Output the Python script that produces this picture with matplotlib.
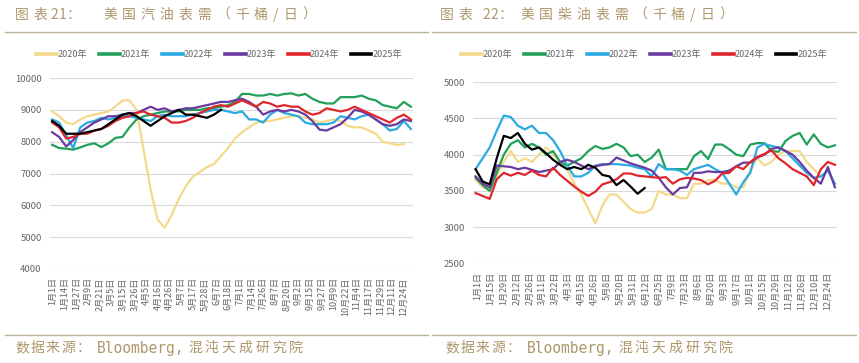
import numpy as np
import matplotlib.pyplot as plt
from matplotlib.lines import Line2D

plt.rcParams['font.family'] = ['Noto Sans CJK SC', 'DejaVu Sans']

years = ['2020年', '2021年', '2022年', '2023年', '2024年', '2025年']
colors = ['#F4D98A', '#21A05A', '#2AAAE2', '#6B3A9E', '#E0262B', '#000000']

# US gasoline implied demand, kb/d, weekly
gas_2020 = [8950, 8800, 8600, 8550, 8700, 8800, 8850, 8900, 8950, 9100,
            9300, 9300, 9000, 7750, 6500, 5550, 5300, 5700, 6200, 6600,
            6900, 7050, 7200, 7300, 7550, 7800, 8100, 8300, 8450, 8600,
            8650, 8650, 8700, 8750, 8800, 8800, 8750, 8700, 8600, 8650,
            8700, 8650, 8500, 8450, 8450, 8350, 8250, 8000, 7950, 7900,
            7920]
gas_2021 = [7900, 7800, 7780, 7750, 7820, 7900, 7950, 7830, 7950, 8120,
            8150, 8450, 8700, 8800, 8850, 8900, 8950, 8950, 8950, 9000,
            9000, 9000, 9050, 9050, 9100, 9150, 9250, 9500, 9500, 9450,
            9450, 9500, 9450, 9500, 9520, 9450, 9500, 9350, 9250, 9200,
            9200, 9400, 9400, 9400, 9450, 9350, 9300, 9150, 9100, 9050,
            9250, 9100]
gas_2022 = [8700, 8600, 8200, 7800, 8450, 8600, 8650, 8750, 8700, 8750,
            8800, 8800, 8750, 8700, 8650, 8800, 8850, 8800, 8800, 8800,
            8850, 8900, 8950, 9000, 9000, 8950, 8900, 8950, 8700, 8700,
            8600, 8850, 9000, 8900, 8850, 8800, 8600, 8550, 8550, 8550,
            8600, 8800, 8750, 8700, 8800, 8850, 8700, 8550, 8350, 8400,
            8650, 8400]
gas_2023 = [8300, 8150, 7850, 8050, 8300, 8450, 8600, 8700, 8800, 8800,
            8850, 8900, 8900, 9000, 9100, 9000, 9050, 8950, 9000, 9050,
            9050, 9100, 9150, 9200, 9250, 9250, 9300, 9350, 9250, 9100,
            8850, 8950, 9000, 8950, 9000, 8950, 8850, 8650, 8380, 8350,
            8450, 8550, 8750, 9000, 8950, 8850, 8700, 8550, 8500, 8550,
            8700, 8650]
gas_2024 = [8600, 8450, 8100, 8150, 8250, 8250, 8350, 8400, 8500, 8650,
            8750, 8800, 8900, 8950, 8850, 8800, 8750, 8600, 8600, 8650,
            8750, 8900, 9000, 9100, 9150, 9100, 9200, 9300, 9200, 9100,
            9250, 9200, 9100, 9150, 9100, 9100, 8950, 8850, 8900, 9050,
            9000, 8950, 9000, 9100, 9000, 8900, 8800, 8700, 8600, 8750,
            8850, 8700]
gas_2025 = [8650, 8500, 8250, 8250, 8250, 8300, 8350, 8400, 8550, 8700,
            8850, 8900, 8800, 8650, 8500, 8650, 8800, 8900, 9000, 8850,
            8850, 8800, 8750, 8850, 9000]

# US diesel implied demand, kb/d, weekly
dsl_2020 = [3650, 3550, 3500, 3700, 3900, 4050, 3900, 3950, 3900, 4000,
            4100, 4000, 3900, 3800, 3600, 3450, 3250, 3050, 3300, 3450,
            3450, 3350, 3250, 3200, 3200, 3250, 3500, 3450, 3450, 3400,
            3400, 3600, 3600, 3650, 3650, 3600, 3600, 3550, 3550, 3800,
            3950, 3850, 3900, 4000, 4050, 4050, 4050, 3900, 3800, 3700]
dsl_2021 = [3680, 3580, 3500, 3750, 4000, 4150, 4200, 4100, 4150, 4100,
            4000, 4050, 3900, 3850, 3900, 3950, 4050, 4120, 4080, 4100,
            4150, 4100, 3980, 4000, 3900, 3960, 4070, 3800, 3800, 3800,
            3800, 3980, 4050, 3940, 4140, 4140, 4075, 4000, 3980, 4140,
            4160, 4160, 4050, 4040, 4190, 4260, 4300, 4140, 4280, 4150,
            4100, 4130]
dsl_2022 = [3800, 3950, 4100, 4330, 4540, 4520, 4400, 4350, 4400, 4300,
            4300, 4200, 4050, 3850, 3700, 3700, 3750, 3850, 3870, 3870,
            3870, 3860, 3850, 3820, 3800, 3700, 3870, 3800, 3800, 3780,
            3720, 3800, 3830, 3860, 3800, 3750, 3600, 3450, 3620, 3750,
            4100, 4150, 4120, 4100, 4050, 3950, 3850, 3750, 3680, 3700,
            3780, 3600]
dsl_2023 = [3700, 3600, 3550, 3850, 3840, 3830, 3800, 3820, 3790, 3760,
            3780, 3800, 3900, 3930, 3900, 3850, 3800, 3840, 3860, 3870,
            3960, 3920, 3880, 3850, 3820, 3780, 3680, 3550, 3450, 3540,
            3550, 3750, 3750, 3770, 3760, 3760, 3780, 3840, 3890, 3890,
            3960, 4000, 4080, 4100, 4050, 4000, 3900, 3780, 3680, 3600,
            3830, 3550]
dsl_2024 = [3470, 3430, 3390, 3660, 3750, 3710, 3750, 3720, 3780, 3720,
            3700, 3820, 3720, 3640, 3560, 3490, 3430, 3490, 3590, 3620,
            3660, 3740, 3740, 3710, 3700, 3690, 3680, 3690, 3600, 3660,
            3680, 3670, 3650, 3590, 3640, 3740, 3750, 3840, 3800, 3900,
            3970, 4010, 4060, 3950, 3880, 3800, 3750, 3700, 3580, 3800,
            3900, 3860]
dsl_2025 = [3800, 3630, 3590, 3950, 4260, 4230, 4300, 4150, 4070, 4100,
            4020, 3930, 3860, 3800, 3830, 3800, 3860, 3820, 3720, 3700,
            3580, 3650, 3560, 3460, 3540]

gas_ticks = ['1月1日', '1月14日', '1月27日', '2月9日', '2月21日', '3月5日', '3月15日',
             '3月26日', '4月5日', '4月16日', '4月26日', '5月7日', '5月17日', '5月28日',
             '6月7日', '6月18日', '7月1日', '7月14日', '7月26日', '8月7日', '8月20日',
             '9月2日', '9月15日', '9月27日', '10月9日', '10月22日', '11月4日',
             '11月17日', '11月29日', '12月11日', '12月24日']
dsl_ticks = ['1月1日', '1月15日', '1月29日', '2月12日', '2月26日', '3月11日', '3月22日',
             '4月3日', '4月15日', '4月26日', '5月8日', '5月20日', '5月31日', '6月12日',
             '6月25日', '7月9日', '7月23日', '8月6日', '8月20日', '9月3日', '9月17日',
             '10月1日', '10月15日', '10月29日', '11月12日', '11月26日', '12月10日',
             '12月24日']

gas = [gas_2020, gas_2021, gas_2022, gas_2023, gas_2024, gas_2025]
dsl = [dsl_2020, dsl_2021, dsl_2022, dsl_2023, dsl_2024, dsl_2025]

title_c = '#AE986C'
rule_c = '#BDB39C'
tick_c = '#666666'
W, H = 859, 363

fig = plt.figure(figsize=(W / 100, H / 100), dpi=100)
ax1 = fig.add_axes([0.0582, 0.259, 0.4226, 0.526])
ax2 = fig.add_axes([0.5512, 0.2747, 0.4232, 0.4986])
renderer = fig.canvas.get_renderer()


def draw(ax, series, ticks, ylim, ystep, tick_pos):
    for s, c, lab in zip(series, colors, years):
        ax.plot(range(len(s)), s, color=c, lw=1.6, label=lab)
    ax.set_xlim(-0.3, 51.3)
    ax.set_ylim(*ylim)
    ax.set_yticks(np.arange(ylim[0], ylim[1] + 1, ystep))
    ax.set_xticks(tick_pos)
    ax.set_xticklabels(ticks, rotation=90, fontsize=6.5, color=tick_c)
    ax.tick_params(axis='y', labelsize=6.8, colors=tick_c, length=0, pad=6)
    ax.tick_params(axis='x', length=0, pad=6)
    ax.grid(axis='y', color='#D9D9D9', lw=0.8)
    ax.set_axisbelow(True)
    for sp in ax.spines.values():
        sp.set_visible(False)


def spaced(x, y, s, gap, **kw):
    # one glyph at a time so the loose letter spacing of the original can be copied
    for ch in s:
        t = fig.text(x / W, 1 - y / H, ch, va='center', ha='left', **kw)
        x += t.get_window_extent(renderer=renderer).width + gap


draw(ax1, gas, gas_ticks, (4000, 10000), 1000, np.linspace(0.1, 50, len(gas_ticks)))
draw(ax2, dsl, dsl_ticks, (2500, 5000), 500, np.linspace(0.3, 50, len(dsl_ticks)))

for cx in [219 / W, 644 / W]:
    handles = [Line2D([0], [0], color=c, lw=2.6) for c in colors]
    fig.legend(handles, years, loc='center', bbox_to_anchor=(cx, 1 - 55 / H), ncol=6,
               frameon=False, fontsize=6.5, handlelength=2.3, handletextpad=0.1,
               columnspacing=1.3, labelcolor=tick_c)

# headers
ttl = dict(color=title_c, fontsize=10)
spaced(15, 15, '图表', 5, **ttl)
spaced(50, 15, '21：', 0.5, **ttl)
spaced(103, 15, '美国汽油表需（千桶/日）', 5, **ttl)
spaced(440, 15, '图表', 5, **ttl)
spaced(482, 15, '22：', 0.5, **ttl)
spaced(520, 15, '美国柴油表需（千桶/日）', 5, **ttl)

# footers
for off in [0, 430]:
    spaced(15 + off, 348, '数据来源：', 1.5, **ttl)
    fig.text((97 + off) / W, 1 - 348 / H, 'Bloomberg,', color=title_c, fontsize=10.5,
             family='DejaVu Sans Mono', va='center', ha='left')
    spaced(188 + off, 348, '混沌天成研究院', 3, **ttl)

for x0, x1 in [(5, 428), (432, 856)]:
    fig.add_artist(Line2D([x0 / W, x1 / W], [1 - 32 / H] * 2, color=rule_c, lw=1))
    fig.add_artist(Line2D([x0 / W, x1 / W], [1 - 335 / H] * 2, color=rule_c, lw=1))

fig.savefig('out.png', dpi=100, facecolor='white')
